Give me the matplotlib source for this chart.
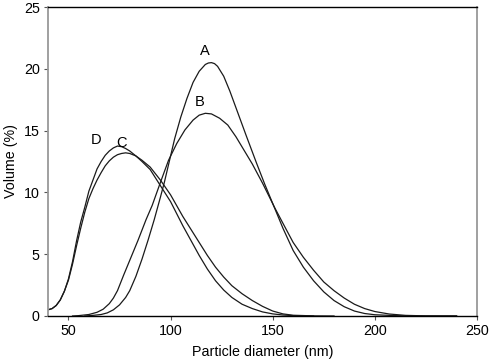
import matplotlib
matplotlib.use("Agg")
import matplotlib.pyplot as plt

# particle size distributions (diameter nm, volume %)
a_x = [58, 62, 66, 69, 72, 75, 78, 80, 83, 86, 89, 92, 95, 97, 99.5, 102, 105, 108,
       111, 114, 117, 118.5, 120, 121.5, 123, 126, 129, 133, 137, 142, 146, 151,
       155, 160, 165, 170, 175, 180, 185, 190, 195, 200, 210, 220, 240]
a_y = [0.0, 0.05, 0.12, 0.25, 0.5, 0.9, 1.5, 2.05, 3.2, 4.6, 6.15, 7.8, 9.6, 10.85,
       12.6, 14.35, 16.1, 17.6, 18.9, 19.8, 20.35, 20.47, 20.5, 20.42, 20.2, 19.4,
       18.2, 16.4, 14.6, 12.4, 10.7, 8.7, 7.1, 5.3, 3.95, 2.85, 1.95, 1.25, 0.75,
       0.4, 0.2, 0.1, 0.03, 0.0, 0.0]

b_x = [52, 55, 60, 64, 67, 70, 72, 74, 77, 80, 84, 88, 91, 95, 99, 103, 107, 111,
       114, 117, 120, 124, 128, 132, 136, 140, 145, 151, 155, 160, 165, 170, 175,
       180, 185, 190, 195, 200, 207, 215, 225, 240]
b_y = [0.0, 0.03, 0.12, 0.3, 0.55, 1.0, 1.45, 2.05, 3.3, 4.5, 6.1, 7.8, 8.95, 10.8,
       12.6, 13.95, 15.05, 15.85, 16.25, 16.4, 16.35, 16.0, 15.45, 14.5, 13.4,
       12.3, 10.75, 8.75, 7.5, 5.95, 4.75, 3.7, 2.75, 2.05, 1.45, 0.95, 0.6, 0.36,
       0.16, 0.05, 0.01, 0.0]

c_x = [40, 42, 44, 46, 48, 50, 52, 54, 56, 58, 60, 62, 64, 66, 68, 70, 72, 74, 76,
       78, 80, 83, 86, 90, 95, 100, 106, 110, 114, 118, 122, 126, 130, 135, 140,
       145, 150, 155, 160, 170, 180]
c_y = [0.5, 0.6, 0.85, 1.3, 2.0, 2.9, 4.2, 5.7, 7.1, 8.4, 9.5, 10.3, 11.0, 11.6,
       12.15, 12.55, 12.85, 13.05, 13.15, 13.2, 13.15, 12.95, 12.6, 12.05, 11.0,
       9.8, 8.05, 7.0, 5.95, 4.9, 3.95, 3.15, 2.45, 1.8, 1.25, 0.78, 0.4, 0.17,
       0.06, 0.01, 0.0]

d_x = [40, 42, 44, 46, 48, 50, 52, 54, 56, 58, 60, 62, 64, 66, 68, 70, 72, 74, 76,
       78, 80, 83, 86, 90, 95, 100, 106, 110, 114, 118, 122, 126, 130, 135, 140,
       145, 150, 155, 160, 170]
d_y = [0.5, 0.6, 0.85, 1.3, 2.0, 3.0, 4.4, 6.1, 7.6, 8.8, 10.1, 11.0, 11.9, 12.5,
       13.0, 13.35, 13.6, 13.75, 13.7, 13.55, 13.35, 12.95, 12.5, 11.85, 10.55,
       9.25, 7.3, 6.1, 4.9, 3.8, 2.85, 2.1, 1.5, 0.95, 0.6, 0.33, 0.17, 0.08, 0.03,
       0.0]

labels = ["A", "B", "C", "D"]
label_pos = [(116.8, 21.4), (114.1, 17.3), (76.1, 14.0), (63.3, 14.2)]

x_ticks = [50, 100, 150, 200, 250]
y_ticks = [0, 5, 10, 15, 20, 25]


def main():
    plt.rcParams['font.family'] = ['Liberation Sans', 'DejaVu Sans']
    plt.rcParams['font.size'] = 10.3

    fig = plt.figure(figsize=(4.9, 3.63), dpi=100)
    ax = fig.add_axes([0.098, 0.1295, 0.8755, 0.8512])

    for xs, ys in [(a_x, a_y), (b_x, b_y), (c_x, c_y), (d_x, d_y)]:
        ax.plot(xs, ys, color='#1a1a1a', lw=0.9)

    for name, (lx, ly) in zip(labels, label_pos):
        ax.text(lx, ly, name, ha='center', va='center', fontsize=10.5)

    ax.set_xlim(40, 250)
    ax.set_ylim(0, 25)
    ax.set_xticks(x_ticks)
    ax.set_yticks(y_ticks)

    for side in ['left', 'right']:
        ax.spines[side].set_color('#999999')
        ax.spines[side].set_linewidth(1.3)
    for side in ['top', 'bottom']:
        ax.spines[side].set_color('black')
        ax.spines[side].set_linewidth(1.0)

    ax.tick_params(direction='out', length=3, width=0.8, color='#555555',
                   labelsize=10.3, pad=3)

    ax.set_xlabel('Particle diameter (nm)', fontsize=10.3, labelpad=5)
    ax.set_ylabel('Volume (%)', fontsize=10.3, labelpad=4)

    fig.savefig('out.png', dpi=100)


if __name__ == "__main__":
    main()
